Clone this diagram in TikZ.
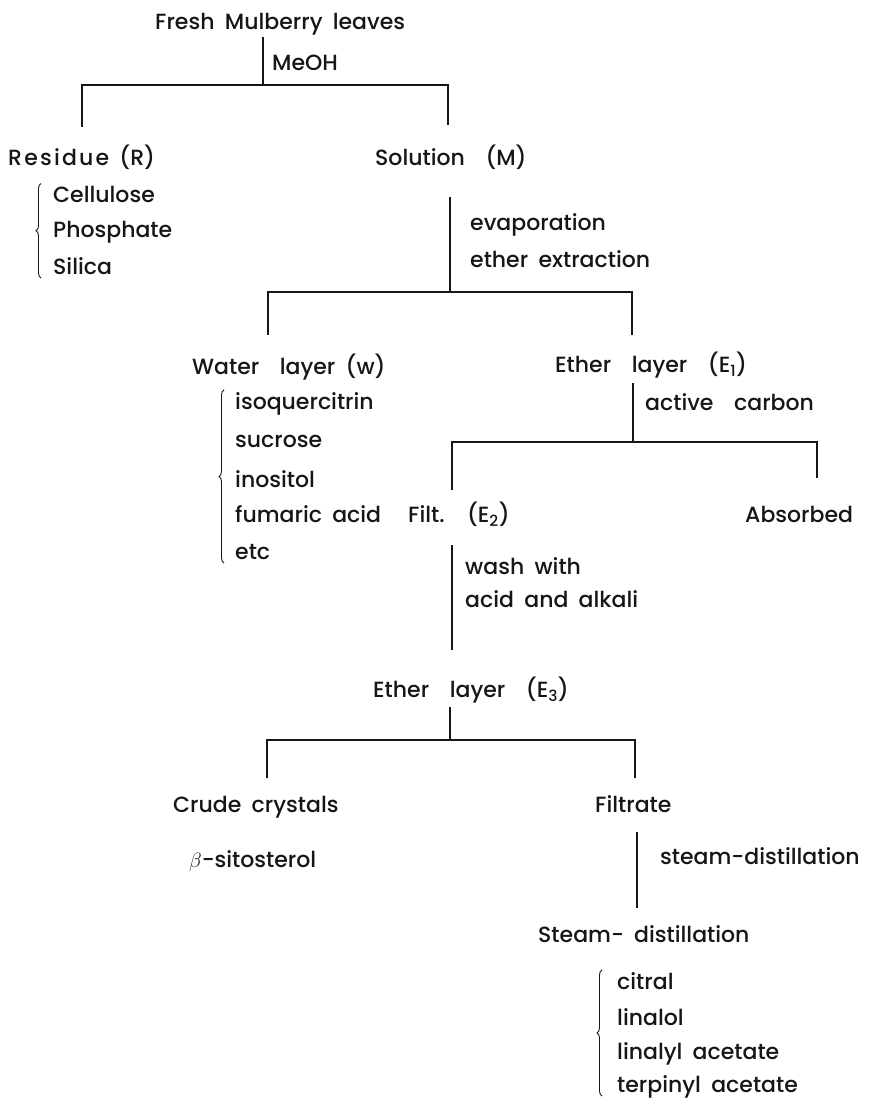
\documentclass[tikz,border=0pt]{standalone}
\usepackage{fontspec}
\setmainfont{Poppins Medium}[WordSpace=1.8]
\usetikzlibrary{decorations.pathreplacing}
\definecolor{ink}{RGB}{22, 22, 22}

\tikzset{
  lbl/.style={anchor=base west, inner sep=0pt, text=ink, font=\fontsize{22}{26}\selectfont},
  ln/.style={draw=ink, line width=1.7pt},
  brc/.style={draw=ink, line width=0.9pt, decorate, decoration={brace, amplitude=5pt}},
}

\begin{document}
\begin{tikzpicture}[x=1pt,y=-1pt]
            \useasboundingbox (0,0) rectangle (871,1109);
            % fractions and reagents
            \node[lbl] (fresh)     at (155,  29) {Fresh Mulberry leaves};
            \node[lbl] (meoh)      at (272,  70) {MeOH};
            \node[lbl] (residue)   at (  8, 165) {{\addfontfeature{LetterSpace=10}Residue} (R)};
            \node[lbl] (solution)  at (375, 165) {Solution \ (M)};
            \node[lbl] (cellulose) at ( 53, 202) {Cellulose};
            \node[lbl] (phosphate) at ( 53, 237) {Phosphate};
            \node[lbl] (silica)    at ( 53, 274) {Silica};
            \node[lbl] (evap)      at (470, 230) {evaporation};
            \node[lbl] (extract)   at (470, 267) {ether extraction};
            \node[lbl] (water)     at (192, 374) {Water \ layer (w)};
            \node[lbl] (etherA)    at (555, 372) {Ether \ layer \ (E\textsubscript{1})};
            \node[lbl] (isoq)      at (235, 409) {isoquercitrin};
            \node[lbl] (sucrose)   at (235, 447) {sucrose};
            \node[lbl] (inositol)  at (235, 487) {inositol};
            \node[lbl] (fumaric)   at (235, 522) {fumaric acid};
            \node[lbl] (etc)       at (235, 559) {etc};
            \node[lbl] (carbon)    at (645, 410) {active \ carbon};
            \node[lbl] (filt)      at (408, 522) {Filt. \ (E\textsubscript{2})};
            \node[lbl] (absorbed)  at (745, 522) {Absorbed};
            \node[lbl] (wash)      at (465, 574) {wash with};
            \node[lbl] (acid)      at (465, 607) {acid and alkali};
            \node[lbl] (etherC)    at (373, 697) {Ether \ layer \ (E\textsubscript{3})};
            \node[lbl] (crude)     at (173, 812) {Crude crystals};
            \node[lbl] (filtrate)  at (595, 812) {Filtrate};
            \node[lbl] (sito)      at (189, 867) {$\beta$-sitosterol};
            \node[lbl] (steam)     at (660, 864) {steam-distillation};
            \node[lbl] (distil)    at (538, 942) {Steam- distillation};
            \node[lbl] (citral)    at (617, 989) {citral};
            \node[lbl] (linalol)   at (617,1025) {linalol};
            \node[lbl] (linalyl)   at (617,1059) {linalyl acetate};
            \node[lbl] (terpinyl)  at (617,1092) {terpinyl acetate};
            % line ends
            \coordinate (fTop)  at (263,  37);  \coordinate (fBar)  at (263,  85);
            \coordinate (rTop)  at ( 82, 127);  \coordinate (mTop)  at (448, 125);
            \coordinate (mStem) at (450, 197);  \coordinate (mBar)  at (450, 292);
            \coordinate (wTop)  at (268, 335);  \coordinate (eTop)  at (632, 335);
            \coordinate (eStem) at (633, 383);  \coordinate (eBar)  at (633, 442);
            \coordinate (fiTop) at (452, 490);  \coordinate (abTop) at (817, 478);
            \coordinate (fiStem) at (452, 545); \coordinate (fiEnd) at (452, 650);
            \coordinate (cStem) at (450, 707);  \coordinate (cBar)  at (450, 740);
            \coordinate (crTop) at (267, 778);  \coordinate (flTop) at (635, 778);
            \coordinate (flStem) at (637, 832); \coordinate (flEnd) at (637, 908);
            % tree
            \draw[ln] (fTop) -- (fBar);
            \draw[ln] (rTop) |- (fBar) -| (mTop);
            \draw[ln] (mStem) -- (mBar);
            \draw[ln] (wTop) |- (mBar) -| (eTop);
            \draw[ln] (eStem) -- (eBar);
            \draw[ln] (fiTop) |- (eBar) -| (abTop);
            \draw[ln] (fiStem) -- (fiEnd);
            \draw[ln] (cStem) -- (cBar);
            \draw[ln] (crTop) |- (cBar) -| (flTop);
            \draw[ln] (flStem) -- (flEnd);
            % braces
            \draw[brc] ([xshift=-12pt,yshift=-4pt]silica.base west)   -- ([xshift=-12pt,yshift=2pt]cellulose.north west);
            \draw[brc] ([xshift=-11pt,yshift=-4pt]etc.base west)      -- ([xshift=-11pt,yshift=2pt]isoq.north west);
            \draw[brc] ([xshift=-15pt,yshift=-4pt]terpinyl.base west) -- ([xshift=-15pt,yshift=2pt]citral.north west);
\end{tikzpicture}
\end{document}
